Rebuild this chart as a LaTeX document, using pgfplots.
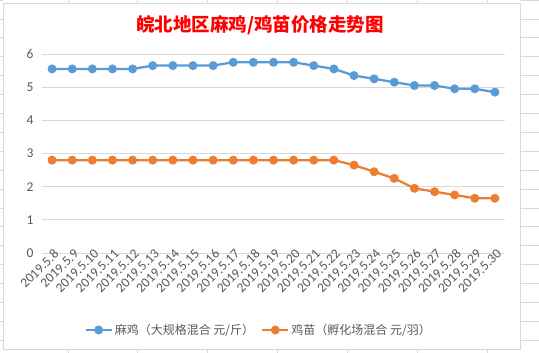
\documentclass[border=0pt]{standalone}
\usepackage{pgfplots}
\pgfplotsset{compat=1.18}
\usepackage{fontspec}
\setmainfont{Carlito}
\newfontfamily\cjk{Noto Sans CJK SC}
\definecolor{cblue}{HTML}{5B9BD5}
\definecolor{corange}{HTML}{ED7D31}
\definecolor{tgray}{HTML}{595959}
\definecolor{ggray}{HTML}{D9D9D9}
\begin{document}
\begin{tikzpicture}[x=1pt,y=1pt]
\useasboundingbox (0,0) rectangle (539,353);
\fill[white] (0,0) rectangle (539,353);
\foreach \yy in {0,18.9,37.8,56.7,75.6,94.5,113.4,132.3,151.2,170.1,189,207.9,226.8,245.7,264.6,283.5,302.4,321.3,340.2} {
  \draw[ggray,line width=0.75pt] (0,353-\yy) -- (3,353-\yy);
  \draw[ggray,line width=0.75pt] (520,353-\yy) -- (539,353-\yy);
}
\foreach \xx in {68,137,207,277,347,417,487} {
  \draw[ggray,line width=0.75pt] (\xx,0) -- (\xx,4);
  \draw[ggray,line width=0.75pt] (\xx,350) -- (\xx,353);
}
\draw[ggray,line width=0.75pt] (3,4) rectangle (520,350);
\node[text=red,font=\cjk\bfseries\fontsize{18.5}{20}\selectfont] at (260,328) {皖北地区麻鸡/鸡苗价格走势图};
\begin{axis}[
  at={(42pt,100pt)}, anchor=south west,
  scale only axis, width=463pt, height=199pt,
  xmin=-0.5, xmax=22.5, ymin=0, ymax=6,
  ytick={0,1,2,3,4,5,6},
  xtick={0,...,22},
  xticklabels={2019.5.8,2019.5.9,2019.5.10,2019.5.11,2019.5.12,2019.5.13,2019.5.14,2019.5.15,2019.5.16,2019.5.17,2019.5.18,2019.5.19,2019.5.20,2019.5.21,2019.5.22,2019.5.23,2019.5.24,2019.5.25,2019.5.26,2019.5.27,2019.5.28,2019.5.29,2019.5.30},
  axis line style={draw=none},
  major tick length=0pt,
  ymajorgrids, grid style={ggray,line width=0.75pt},
  /pgf/number format/assume math mode=true,
  ticklabel style={font=\fontsize{13.5}{15}\selectfont, text=tgray},
  x tick label style={rotate=45, anchor=east, xshift=5pt, yshift=-2pt, inner sep=1pt},
  y tick label style={xshift=-5pt},
  legend style={at={(0.468,-0.387)}, anchor=center, draw=none, fill=none,
    font=\cjk\fontsize{12}{14}\selectfont, text=tgray, legend columns=2,
    /tikz/every even column/.append style={column sep=5pt}},
  legend image code/.code={\draw[#1, mark repeat=2, mark phase=2] plot coordinates {(0pt,0pt) (13pt,0pt) (26pt,0pt)};},
]
\addplot[cblue, line width=2.25pt, mark=*, mark size=3.3pt] coordinates {
(0,5.55)(1,5.55)(2,5.55)(3,5.55)(4,5.55)(5,5.65)(6,5.65)(7,5.65)(8,5.65)(9,5.75)(10,5.75)(11,5.75)(12,5.75)(13,5.65)(14,5.55)(15,5.35)(16,5.25)(17,5.15)(18,5.05)(19,5.05)(20,4.95)(21,4.95)(22,4.85)};
\addlegendentry{麻鸡（大规格混合 元/斤）}
\addplot[corange, line width=2.25pt, mark=*, mark size=3.3pt] coordinates {
(0,2.8)(1,2.8)(2,2.8)(3,2.8)(4,2.8)(5,2.8)(6,2.8)(7,2.8)(8,2.8)(9,2.8)(10,2.8)(11,2.8)(12,2.8)(13,2.8)(14,2.8)(15,2.65)(16,2.45)(17,2.25)(18,1.95)(19,1.85)(20,1.75)(21,1.65)(22,1.65)};
\addlegendentry{鸡苗（孵化场混合 元/羽）}
\end{axis}
\end{tikzpicture}
\end{document}
